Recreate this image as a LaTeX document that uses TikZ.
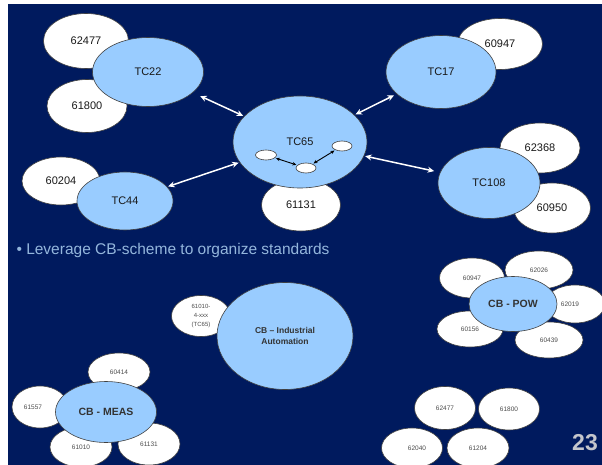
\documentclass[tikz,border=0pt]{standalone}
\usepackage{fontspec}
\setmainfont{Liberation Sans}
\usetikzlibrary{shapes.geometric,arrows.meta}
\definecolor{navy}{HTML}{001A5E}
\definecolor{lblue}{HTML}{99CCFF}
\definecolor{bultext}{HTML}{94B6DC}
\definecolor{numgray}{HTML}{C4C6CC}
\begin{document}
\begin{tikzpicture}[x=1pt,y=-1pt,
  ell/.style={ellipse,draw=black!75,line width=0.6pt,inner sep=0pt,text=black!90,font=\fontsize{11}{13}\selectfont},
  wb/.style={ell,fill=white},
  bb/.style={ell,fill=lblue},
  wbs/.style={wb,font=\fontsize{6.5}{7.5}\selectfont,text=black!70},
  sz/.style 2 args={minimum width=#1,minimum height=#2},
  warr/.style={{Stealth[length=6.5pt,width=6pt]}-{Stealth[length=6.5pt,width=6pt]},white,line width=1.5pt},
  barr/.style={{Stealth[length=4pt,width=3.5pt]}-{Stealth[length=4pt,width=3.5pt]},black,line width=0.9pt,shorten <=1pt,shorten >=1pt}
]
\useasboundingbox (0,0) rectangle (602,465);
\fill[white] (0,0) rectangle (602,465);
\fill[navy] (8,4) rectangle (602,465);

% ---- top half ----
\node[wb,sz={85pt}{55pt}] (a62477) at (86,41) {62477};
\node[wb,sz={80pt}{53pt}] (a61800) at (87,106) {61800};
\node[bb,sz={111pt}{69pt}] (tc22) at (148,72) {TC22};

\node[wb,sz={85pt}{51pt}] (a60947) at (500,44) {60947};
\node[bb,sz={110pt}{73pt}] (tc17) at (441,72) {TC17};

\node[wb,sz={80pt}{50pt}] (a62368) at (540,148) {62368};
\node[wb,sz={77pt}{50pt}] (a60950) at (552,208) {60950};
\node[bb,sz={102pt}{71pt}] (tc108) at (489,183) {TC108};

\node[wb,sz={78pt}{48pt}] (a60204) at (61,181) {60204};
\node[bb,sz={96pt}{58pt}] (tc44) at (125,201) {TC44};

\node[wb,sz={79pt}{52pt}] (a61131) at (301,205) {61131};
\node[bb,sz={134pt}{92pt}] (tc65) at (300,142) {TC65};
\node[wb,sz={21pt}{10pt}] (s1) at (266,155) {};
\node[wb,sz={20pt}{10pt}] (s2) at (306,168) {};
\node[wb,sz={20pt}{10pt}] (s3) at (342,146) {};
\draw[barr] (s1) -- (s2);
\draw[barr] (s2) -- (s3);

\draw[warr,shorten <=8pt,shorten >=1pt] (tc22) -- (tc65);
\draw[warr,shorten <=1pt,shorten >=3pt] (tc65) -- (tc17);
\draw[warr,shorten <=1pt,shorten >=1pt] (tc44) -- (tc65);
\draw[warr,shorten <=1pt,shorten >=6pt] (tc65) -- (tc108);

\node[anchor=west,text=bultext,font=\fontsize{15.5}{18}\selectfont] (bul) at (13,250) {\textbullet\ Leverage CB-scheme to organize standards};

% ---- CB Industrial Automation ----
\node[wbs,sz={59pt}{41pt},align=center,font=\fontsize{6}{9}\selectfont] (a61010x) at (201,316) {61010-\\4-xxx\\(TC65)};
\node[bb,sz={136pt}{107pt},align=center,font=\bfseries\fontsize{8.5}{11}\selectfont,text=black!80] (cbia) at (285,336) {CB -- Industrial\\Automation};

% ---- CB MEAS ----
\node[wbs,sz={62pt}{38pt}] (m60414) at (119,372) {60414};
\node[wbs,sz={56pt}{42pt},label={[font=\fontsize{6.5}{7.5}\selectfont,text=black!70,xshift=-7pt]center:61557}] (m61557) at (40,407) {};
\node[wbs,sz={62pt}{40pt}] (m61010) at (81,447) {61010};
\node[wbs,sz={62pt}{42pt}] (m61131) at (149,444) {61131};
\node[bb,sz={101pt}{61pt},font=\bfseries\fontsize{10.5}{12}\selectfont,text=black!80] (cbmeas) at (106,412) {CB - MEAS};

% ---- CB POW ----
\node[wbs,sz={65pt}{40pt}] (p60947) at (472,278) {60947};
\node[wbs,sz={68pt}{38pt}] (p62026) at (539,270) {62026};
\node[wbs,sz={60pt}{38pt},label={[font=\fontsize{6.5}{7.5}\selectfont,text=black!70,xshift=-5pt]center:62019}] (p62019) at (575,304) {};
\node[wbs,sz={66pt}{36pt}] (p60156) at (470,329) {60156};
\node[wbs,sz={68pt}{36pt}] (p60439) at (549,340) {60439};
\node[bb,sz={88pt}{55pt},font=\bfseries\fontsize{10.5}{12}\selectfont,text=black!80] (cbpow) at (513,304) {CB - POW};

% ---- loose cluster ----
\node[wbs,sz={61pt}{43pt}] (l62477) at (445,408) {62477};
\node[wbs,sz={61pt}{42pt}] (l61800) at (509,409) {61800};
\node[wbs,sz={61pt}{40pt},label={[font=\fontsize{6.5}{7.5}\selectfont,text=black!70,xshift=5pt]center:62040}] (l62040) at (412,448) {};
\node[wbs,sz={62pt}{40pt}] (l61204) at (478,448) {61204};

\node[text=numgray,font=\bfseries\fontsize{23}{26}\selectfont] (pg) at (585,443) {23};
\end{tikzpicture}
\end{document}
